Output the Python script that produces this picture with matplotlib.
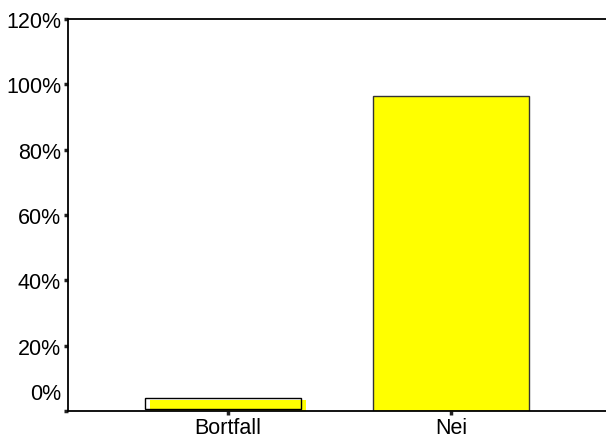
import matplotlib
matplotlib.use('Agg')
import matplotlib.pyplot as plt
import matplotlib.transforms as mtransforms

# data
categories = ['Bortfall', 'Nej']
percents = [3.5, 96.5]
yticks = [0, 20, 40, 60, 80, 100, 120]
yticklabels = ['0%', '20%', '40%', '60%', '80%', '100%', '120%']

plt.rcParams['font.family'] = ['Liberation Sans', 'DejaVu Sans']

fig = plt.figure(figsize=(6.06, 4.35), dpi=100)
ax = fig.add_axes([68 / 606, 23 / 435, 1 - 68 / 606, 392 / 435])

pos = list(range(len(categories)))
width = 0.70
yellow = '#FFFF00'

# Bortfall: yellow bar with a displaced outline box
shift = mtransforms.ScaledTranslation(-5 / 100, 2 / 100, fig.dpi_scale_trans)
ax.bar(pos[0], percents[0], width=width, color='white', edgecolor='none',
       zorder=1, transform=ax.transData + shift)
ax.bar(pos[0], percents[0], width=width, color=yellow, edgecolor='none', zorder=2)
ax.bar(pos[0], percents[0], width=width, facecolor='none', edgecolor='black',
       linewidth=1.0, zorder=3, transform=ax.transData + shift)

# Nej
ax.bar(pos[1], percents[1], width=width, color=yellow, edgecolor='#333333',
       linewidth=1.0, zorder=2)

ax.set_xlim(-0.717, 1.695)
ax.set_ylim(0, 120)
ax.set_xticks(pos)
ax.set_xticklabels(categories, fontsize=15.5)
ax.set_yticks(yticks)
ax.set_yticklabels(yticklabels, fontsize=15.5)

ax.spines['right'].set_visible(False)
for s in ['left', 'top', 'bottom']:
    ax.spines[s].set_linewidth(1.3)
    ax.spines[s].set_zorder(5)

ax.tick_params(axis='both', direction='out', length=3, width=2.5, color='#222222')
ax.tick_params(axis='y', pad=2)
ax.tick_params(axis='x', pad=1)

# the 0% label sits above its tick in the original
lab0 = ax.get_yticklabels()[0]
lab0.set_transform(lab0.get_transform() +
                   mtransforms.ScaledTranslation(0, 20 / 100, fig.dpi_scale_trans))

fig.savefig('out.png', dpi=100)
